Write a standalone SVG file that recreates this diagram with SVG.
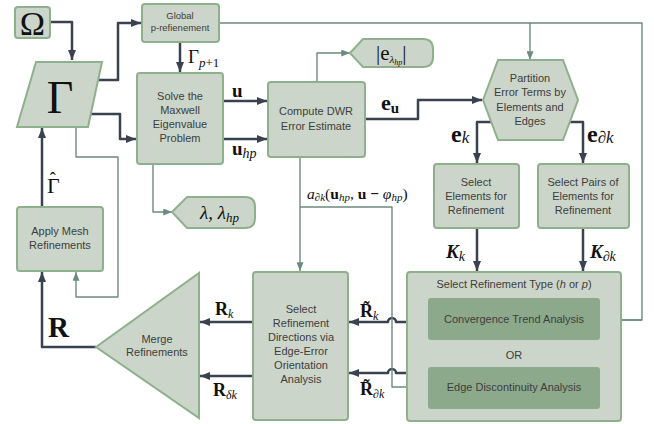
<svg xmlns="http://www.w3.org/2000/svg" width="654" height="424" viewBox="0 0 654 424">
<defs>
<marker id="ad" viewBox="0 0 10 8" refX="10" refY="4" markerWidth="10" markerHeight="8" markerUnits="userSpaceOnUse" orient="auto"><path d="M0,0 L10,4 L0,8 z" fill="#3A4250"/></marker>
<marker id="at" viewBox="0 0 10 8" refX="10" refY="4" markerWidth="9" markerHeight="7" markerUnits="userSpaceOnUse" orient="auto"><path d="M0,0 L10,4 L0,8 z" fill="#6B8A80"/></marker>
</defs>
<style>
.n{fill:#CCD5C9;stroke:#8FB08C;stroke-width:2}
.in{fill:#8DA98C;stroke:none}
.t{font-family:"Liberation Sans",Arial,sans-serif;font-size:11px;fill:#3D3D3D;text-anchor:middle}
.ts{font-family:"Liberation Sans",Arial,sans-serif;font-size:9.5px;fill:#3D3D3D;text-anchor:middle}
.m{font-family:"Liberation Serif","DejaVu Serif",serif;fill:#111}
.d{fill:none;stroke:#3A4250;stroke-width:2.5;stroke-linejoin:round;marker-end:url(#ad)}
.th{fill:none;stroke:#6B8A80;stroke-width:1.4;stroke-linejoin:round}
.tha{marker-end:url(#at)}
</style>
<rect width="654" height="424" fill="#FFFFFF"/>
<g id="connectors">
<path class="d" d="M50,22 H72 V60"/>
<path class="d" d="M98,80 H118 V23 H141"/>
<path class="d" d="M91,114 H120 V139 H136"/>
<path class="d" d="M180,42 V72"/>
<path class="d" d="M223,101 H267"/>
<path class="d" d="M223,139 H267"/>
<path class="d" d="M365,119 H418 V100 H482"/>
<path class="d" d="M492,122 H477 V163"/>
<path class="d" d="M568,122 H583 V163"/>
<path class="d" d="M477,228 V271"/>
<path class="d" d="M583,228 V271"/>
<path class="d" d="M407,322 H396 A4,4 0 0 0 388,322 H349"/>
<path class="d" d="M407,373 H396 A4,4 0 0 0 388,373 H349"/>
<path class="d" d="M253,322 H200"/>
<path class="d" d="M253,376 H200"/>
<path class="d" d="M96,347 H42 V272"/>
<path class="d" d="M42,207 V128"/>
<path class="th" d="M219,23 H642 V320 H602"/>
<path class="th tha" d="M642,320 H602"/>
<path class="th tha" d="M530,23 V60"/>
<path class="th tha" d="M317,82 V53 H350"/>
<path class="th tha" d="M153,164 V212 H172"/>
<path class="th tha" d="M76,127 V157 H118 V297 H76 V272"/>
<path class="th tha" d="M300,157 V271"/>
<path class="th tha" d="M300,207 H392 V387 H428"/>
</g>
<g id="omega"><rect class="n" x="15" y="7" width="35" height="31" rx="3"/><text class="m" x="32.5" y="35" font-size="34" text-anchor="middle">Ω</text></g>
<g id="gamma"><path class="n" d="M36,62 H102 L88,127 H17 Z"/><text class="m" x="60" y="113" font-size="46" text-anchor="middle">Γ</text></g>
<g id="global"><rect class="n" x="142" y="4" width="77" height="38" rx="3"/><text class="ts" x="180" y="19">Global</text><text class="ts" x="180" y="31">p-refienement</text></g>
<g id="solve"><rect class="n" x="137" y="73" width="86" height="91" rx="3"/><text class="t" x="180" y="100">Solve the</text><text class="t" x="180" y="114">Maxwell</text><text class="t" x="180" y="128">Eigenvalue</text><text class="t" x="180" y="142">Problem</text></g>
<g id="compute"><rect class="n" x="268" y="82" width="97" height="75" rx="3"/><text class="t" x="316" y="115">Compute DWR</text><text class="t" x="316" y="130">Error Estimate</text></g>
<g id="eabs"><path class="n" d="M350,53 L363,39 H423 Q433,39 433,49 V57 Q433,67 423,67 H363 Z"/><text class="m" x="376" y="60" font-size="21">|e<tspan font-size="11" font-style="italic" dy="3">λ</tspan><tspan font-size="8" font-style="italic" dy="2">hp</tspan><tspan dy="-5">|</tspan></text></g>
<g id="lambda"><path class="n" d="M172,212 L187,197 H245 Q255,197 255,207 V218 Q255,228 245,228 H187 Z"/><text class="m" x="200" y="219" font-size="19" font-style="italic">λ, λ<tspan font-size="13" dy="3">hp</tspan></text></g>
<g id="partition"><path class="n" d="M483,100 L498,60 H563 L578,100 L563,140 H498 Z"/><text class="t" x="530" y="82">Partition</text><text class="t" x="530" y="96">Error Terms by</text><text class="t" x="530" y="111">Elements and</text><text class="t" x="530" y="125">Edges</text></g>
<g id="selelem"><rect class="n" x="434" y="164" width="85" height="64" rx="3"/><text class="t" x="476" y="186">Select</text><text class="t" x="476" y="200">Elements for</text><text class="t" x="476" y="214">Refinement</text></g>
<g id="selpairs"><rect class="n" x="538" y="164" width="91" height="64" rx="3"/><text class="t" x="583" y="186">Select Pairs of</text><text class="t" x="583" y="200">Elements for</text><text class="t" x="583" y="214">Refinement</text></g>
<g id="reftype"><rect class="n" x="407" y="272" width="214" height="149" rx="3"/><text class="t" x="514" y="288">Select Refinement Type (<tspan font-style="italic">h</tspan> or <tspan font-style="italic">p</tspan>)</text>
<rect class="in" x="428" y="298" width="172" height="42" rx="3"/><text class="t" x="514" y="323">Convergence Trend Analysis</text>
<text class="t" x="514" y="359">OR</text>
<rect class="in" x="428" y="367" width="172" height="42" rx="3"/><text class="t" x="514" y="391">Edge Discontinuity Analysis</text></g>
<g id="directions"><rect class="n" x="253" y="272" width="95" height="148" rx="3"/><text class="t" x="301" y="313">Select</text><text class="t" x="301" y="327">Refinement</text><text class="t" x="301" y="341">Directions via</text><text class="t" x="301" y="355">Edge-Error</text><text class="t" x="301" y="369">Orientation</text><text class="t" x="301" y="383">Analysis</text></g>
<g id="merge"><path class="n" d="M96,347 L199,273 V418 Z"/><text class="t" x="157" y="343">Merge</text><text class="t" x="157" y="356">Refinements</text></g>
<g id="apply"><rect class="n" x="17" y="207" width="86" height="64" rx="3"/><text class="t" x="60" y="235">Apply Mesh</text><text class="t" x="60" y="249">Refinements</text></g>
<g id="labels">
<text class="m" x="188" y="63" font-size="19">Γ<tspan font-size="13" font-style="italic" dy="4">p</tspan><tspan font-size="13" dy="0">+1</tspan></text>
<text class="m" x="232" y="97" font-size="19" font-weight="bold">u</text>
<text class="m" x="232" y="155" font-size="19" font-weight="bold">u<tspan font-size="14" font-style="italic" font-weight="normal" dy="3">hp</tspan></text>
<text class="m" x="381" y="110" font-size="22" font-weight="bold">e<tspan font-size="15" dy="3">u</tspan></text>
<text class="m" x="451" y="142" font-size="24" font-weight="bold">e<tspan font-size="17" font-style="italic" font-weight="normal" dy="1">k</tspan></text>
<text class="m" x="587" y="142" font-size="24" font-weight="bold">e<tspan font-size="17" font-style="italic" font-weight="normal" dy="1">∂k</tspan></text>
<text class="m" x="446" y="258" font-size="19" font-weight="bold" font-style="italic">K<tspan font-size="14" font-weight="normal" dy="3">k</tspan></text>
<text class="m" x="590" y="258" font-size="19" font-weight="bold" font-style="italic">K<tspan font-size="14" font-weight="normal" dy="3">∂k</tspan></text>
<text class="m" x="307" y="199" font-size="15.5"><tspan font-style="italic">a</tspan><tspan font-size="11" font-style="italic" dy="2">∂k</tspan><tspan dy="-2">(</tspan><tspan font-weight="bold">u</tspan><tspan font-size="11" font-style="italic" dy="2">hp</tspan><tspan dy="-2">, </tspan><tspan font-weight="bold">u</tspan><tspan font-weight="bold"> − </tspan><tspan font-style="italic">φ</tspan><tspan font-size="11" font-style="italic" dy="2">hp</tspan><tspan dy="-2">)</tspan></text>
<text class="m" x="47" y="193" font-size="22">Γ<tspan font-size="18" dx="-10" dy="-8">ˆ</tspan></text>
<text class="m" x="48" y="337" font-size="29" font-weight="bold">R</text>
<text class="m" x="215" y="315" font-size="18" font-weight="bold">R<tspan font-size="12" font-style="italic" font-weight="normal" dy="3">k</tspan></text>
<text class="m" x="213" y="396" font-size="18" font-weight="bold">R<tspan font-size="12" font-style="italic" font-weight="normal" dy="3">δk</tspan></text>
<text class="m" x="360" y="317" font-size="18" font-weight="bold">R&#x303;<tspan font-size="12" font-style="italic" font-weight="normal" dy="3">k</tspan></text>
<text class="m" x="360" y="395" font-size="18" font-weight="bold">R&#x303;<tspan font-size="12" font-style="italic" font-weight="normal" dy="3">∂k</tspan></text>
</g>
</svg>
